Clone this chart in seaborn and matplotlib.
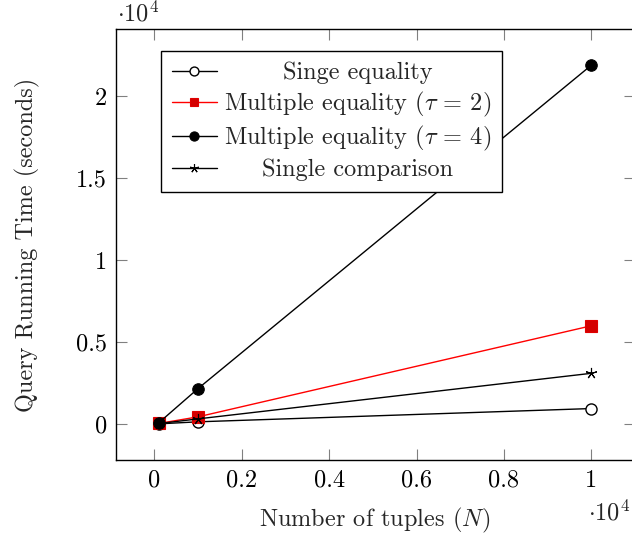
import matplotlib
matplotlib.use("Agg")
import matplotlib.pyplot as plt
import seaborn as sns
import pandas as pd
import numpy as np

# ---- data ----
n_tuples = [100, 1000, 10000]
single_equality = [15, 140, 950]
multi_eq_tau2 = [40, 444, 6000]
multi_eq_tau4 = [80, 2170, 21900]
single_comparison = [30, 320, 3100]

series_labels = ["Singe equality",
                 r"Multiple equality ($\tau$ = 2)",
                 r"Multiple equality ($\tau$ = 4)",
                 "Single comparison"]

x_ticks = [0, 2000, 4000, 6000, 8000, 10000]
x_tick_labels = ["0", "0.2", "0.4", "0.6", "0.8", "1"]
y_ticks = [0, 5000, 10000, 15000, 20000]
y_tick_labels = ["0", "0.5", "1", "1.5", "2"]

sns.set_theme(style="white")
plt.rcParams['font.family'] = ['cmr10', 'DejaVu Sans']
plt.rcParams['mathtext.fontset'] = 'cm'
plt.rcParams['axes.unicode_minus'] = False
FS = 17.5

fig = plt.figure(figsize=(6.32, 5.40), dpi=100)
W, H = 632, 540
L, R, T, B = 115.5, 634.6, 29.3, 460.0
ax = fig.add_axes([L / W, 1 - B / H, (R - L) / W, (B - T) / H])

series = [single_equality, multi_eq_tau2, multi_eq_tau4, single_comparison]
styles = [
    dict(color="black", marker="o", markerfacecolor="white", markeredgecolor="black", markersize=8, markeredgewidth=1.0),
    dict(color="red", marker="s", markerfacecolor="#d40000", markeredgecolor="#e00000", markersize=8, markeredgewidth=0.8),
    dict(color="black", marker="o", markerfacecolor="black", markeredgecolor="black", markersize=8.3),
    dict(color="black", marker=(5, 2, 0), markeredgecolor="black", markersize=8, markeredgewidth=0.8),
]
for vals, lab, st in zip(series, series_labels, styles):
    df = pd.DataFrame({"N": n_tuples, "t": vals})
    sns.lineplot(data=df, x="N", y="t", ax=ax, label=lab, linewidth=1.0, **st)

ax.set_xlim(-890, 10990)
ax.set_ylim(-2190, 24090)
ax.set_xticks(x_ticks)
ax.set_xticklabels(x_tick_labels)
ax.set_yticks(y_ticks)
ax.set_yticklabels(y_tick_labels)
ax.tick_params(axis="both", which="major", direction="in", length=7.6, width=0.8,
               color="#808080", labelsize=FS, top=True, right=True, bottom=True, left=True,
               labelcolor="black")
ax.tick_params(axis="x", pad=7)
ax.tick_params(axis="y", pad=6)
for s in ax.spines.values():
    s.set_color("black")
    s.set_linewidth(1.0)

ax.set_xlabel("Number of tuples ($N$)", fontsize=FS)
ax.set_ylabel("Query Running Time (seconds)", fontsize=FS)
ax.xaxis.set_label_coords((375 - L) / (R - L), (B - 520) / (B - T))
ax.yaxis.set_label_coords((27 - L) / (R - L), 0.5)
ax.xaxis.label.set_va("center")
ax.yaxis.label.set_va("center")

fig.text(117 / W, 1 - 21 / H, r"$\cdot 10^4$", fontsize=FS, ha="left", va="baseline")
fig.text(630.5 / W, 1 - 520 / H, r"$\cdot 10^4$", fontsize=FS, ha="right", va="baseline")

handles, labels = ax.get_legend_handles_labels()
leg = ax.legend(handles, labels, loc="upper left",
                bbox_to_anchor=((161 - L) / (R - L), (B - 51) / (B - T)),
                borderaxespad=0, fontsize=FS, frameon=True, fancybox=False,
                framealpha=1, edgecolor="black", handlelength=1.85, handletextpad=0.3,
                labelspacing=0.22, borderpad=0.45, markerscale=0.8)
leg.get_frame().set_linewidth(1.0)

# centre legend texts (pgfplots style)
fig.canvas.draw()
renderer = fig.canvas.get_renderer()
texts = leg.get_texts()
bbs = [t.get_window_extent(renderer) for t in texts]
x0 = min(b.x0 for b in bbs)
wmax = max(b.width for b in bbs)
inv = fig.transFigure.inverted()
for t in texts:
    ax_pt = t.get_transform().transform(t.get_position())
    fx, fy = inv.transform((x0 + wmax / 2, ax_pt[1]))
    fig.text(fx, fy, t.get_text(), fontsize=FS, ha="center", va="baseline", zorder=10)
    t.set_alpha(0)

fig.savefig("out.png", dpi=100)
